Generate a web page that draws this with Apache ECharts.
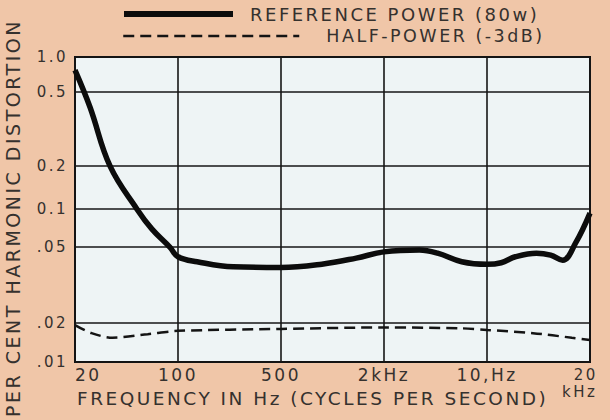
<!DOCTYPE html>
<html>
<head>
<meta charset="utf-8">
<script src="https://cdn.jsdelivr.net/npm/echarts@6/dist/echarts.min.js"></script>
<style>
  html, body { margin: 0; padding: 0; background: #f0c6a8; }
  #chart { width: 610px; height: 420px; }
  #chart svg text { letter-spacing: 2.5px; }
</style>
</head>
<body>
<div id="chart"></div>
<script>
// ---- data ----
const seriesNames = ['REFERENCE POWER (80w)', 'HALF-POWER (-3dB)'];

// frequency (Hz) / per cent harmonic distortion, reference power
const freqRef = [20, 25.3, 34.6, 52.7, 66.6, 88, 100, 135, 237, 500, 867, 1377, 2000, 3474, 4620, 6740, 10000, 11000, 12100, 13950, 15350, 16640, 18140, 20000];
const distRef = [0.77, 0.414, 0.2, 0.1, 0.0694, 0.05, 0.0445, 0.0419, 0.0394, 0.0391, 0.0407, 0.0438, 0.0472, 0.0483, 0.0465, 0.0419, 0.0406, 0.0414, 0.0445, 0.0465, 0.0454, 0.0427, 0.0537, 0.093];

// half power
const freqHalf = [20, 25.9, 36, 62.3, 100, 500, 2000, 6740, 10000, 13620, 17700, 20000];
const distHalf = [0.0193, 0.0167, 0.0154, 0.0164, 0.0174, 0.018, 0.0185, 0.0182, 0.0177, 0.0167, 0.0154, 0.0148];

// printed axis graduations (the original scale is hand-drawn: equal x divisions, uneven y divisions)
const xTickValues = [20, 100, 500, 2000, 10000, 20000];
const xTickLabels = ['20', '100', '500', '2kHz', '10,Hz', '20\nkHz'];
const xTickPos = [0, 1, 2, 3, 4, 5];
// where the printed labels sit (the last one is set slightly left of its line, as printed)
const xLabelPos = [0, 1, 2, 3, 4, 4.93];

const yTickValues = [0.01, 0.02, 0.05, 0.1, 0.2, 0.5, 1.0];
const yTickLabels = ['.01', '.02', '.05', '0.1', '0.2', '0.5', '1.0'];
const yTickPos = [0, 39, 115, 153, 196, 270.3, 305.3];

const xTitle = 'FREQUENCY IN Hz (CYCLES PER SECOND)';
const yTitle = 'PER CENT HARMONIC DISTORTION';

// piecewise-logarithmic scale between the printed graduations
function toScale(v, ticks, pos) {
  let i = 0;
  while (i < ticks.length - 2 && v > ticks[i + 1]) i++;
  const f = Math.log(v / ticks[i]) / Math.log(ticks[i + 1] / ticks[i]);
  return pos[i] + (pos[i + 1] - pos[i]) * f;
}
const xs = f => toScale(f, xTickValues, xTickPos);
const ys = d => toScale(d, yTickValues, yTickPos);

function nearestIndex(arr, v) {
  let best = 0;
  for (let i = 1; i < arr.length; i++) if (Math.abs(arr[i] - v) < Math.abs(arr[best] - v)) best = i;
  return best;
}

const FONT = 'DejaVu Sans';
const TXT = '#35312e';

const chart = echarts.init(document.getElementById('chart'), null, { renderer: 'svg' });
chart.setOption({
  backgroundColor: '#f0c6a8',
  animation: false,
  grid: {
    left: 75, right: 20, top: 57, bottom: 58,
    show: true, backgroundColor: '#eef4f5', borderColor: '#111', borderWidth: 2
  },
  legend: [
    {
      data: [seriesNames[0]], left: 121, top: 5, padding: 0,
      itemWidth: 109, itemHeight: 14,
      lineStyle: { width: 6 }, itemStyle: { opacity: 0 },
      textStyle: { fontFamily: FONT, fontSize: 18, color: TXT, padding: [0, 0, 0, 12] }
    },
    {
      data: [seriesNames[1]], left: 122, top: 27, padding: 0,
      itemWidth: 176, itemHeight: 14,
      lineStyle: { width: 2.5 }, itemStyle: { opacity: 0 },
      textStyle: { fontFamily: FONT, fontSize: 17.5, color: TXT, padding: [0, 0, 0, 22] }
    }
  ],
  xAxis: {
    type: 'value', min: 0, max: 5, interval: 1,
    axisLine: { show: false }, axisTick: { show: false },
    splitLine: { show: true, lineStyle: { color: '#161616', width: 1.6 } },
    axisLabel: {
      customValues: xLabelPos,
      margin: 4, fontFamily: FONT, fontSize: 17, color: TXT,
      alignMinLabel: 'left',
      formatter: v => {
        const i = nearestIndex(xLabelPos, v);
        if (i === xLabelPos.length - 1) {
          const parts = xTickLabels[i].split('\n');
          return '{a|' + parts[0] + '}\n{b|' + parts[1] + '}';
        }
        return xTickLabels[i];
      },
      rich: {
        a: { fontFamily: FONT, fontSize: 15, color: TXT, lineHeight: 17, padding: [0, 0, 0, 6] },
        b: { fontFamily: FONT, fontSize: 15, color: TXT, lineHeight: 17, padding: [0, 6, 0, 0] }
      }
    }
  },
  yAxis: {
    type: 'value', min: 0, max: yTickPos[yTickPos.length - 1],
    axisLine: { show: false },
    axisTick: { show: false, customValues: yTickPos },
    splitLine: { show: true, lineStyle: { color: '#161616', width: 1.6 } },
    axisLabel: {
      customValues: yTickPos,
      margin: 7, fontFamily: FONT, fontSize: 15, color: TXT,
      formatter: v => yTickLabels[nearestIndex(yTickPos, v)]
    }
  },
  graphic: [
    {
      type: 'text', x: 77, y: 398,
      style: { text: xTitle, fontFamily: FONT, fontSize: 18.5, fill: TXT, textAlign: 'left', textVerticalAlign: 'middle' }
    },
    {
      type: 'text', x: 13, y: 218, rotation: Math.PI / 2,
      style: { text: yTitle, fontFamily: FONT, fontSize: 19, fill: TXT, textAlign: 'center', textVerticalAlign: 'middle' }
    }
  ],
  series: [
    {
      name: seriesNames[0], type: 'line', symbol: 'none', smooth: 0.4,
      lineStyle: { color: '#0c0c0c', width: 5.5 },
      itemStyle: { color: '#0c0c0c' },
      data: freqRef.map((f, i) => [xs(f), ys(distRef[i])])
    },
    {
      name: seriesNames[1], type: 'line', symbol: 'none', smooth: 0.3,
      lineStyle: { color: '#141414', width: 2.5, type: [11, 6] },
      itemStyle: { color: '#141414' },
      data: freqHalf.map((f, i) => [xs(f), ys(distHalf[i])])
    }
  ]
});
</script>
</body>
</html>
